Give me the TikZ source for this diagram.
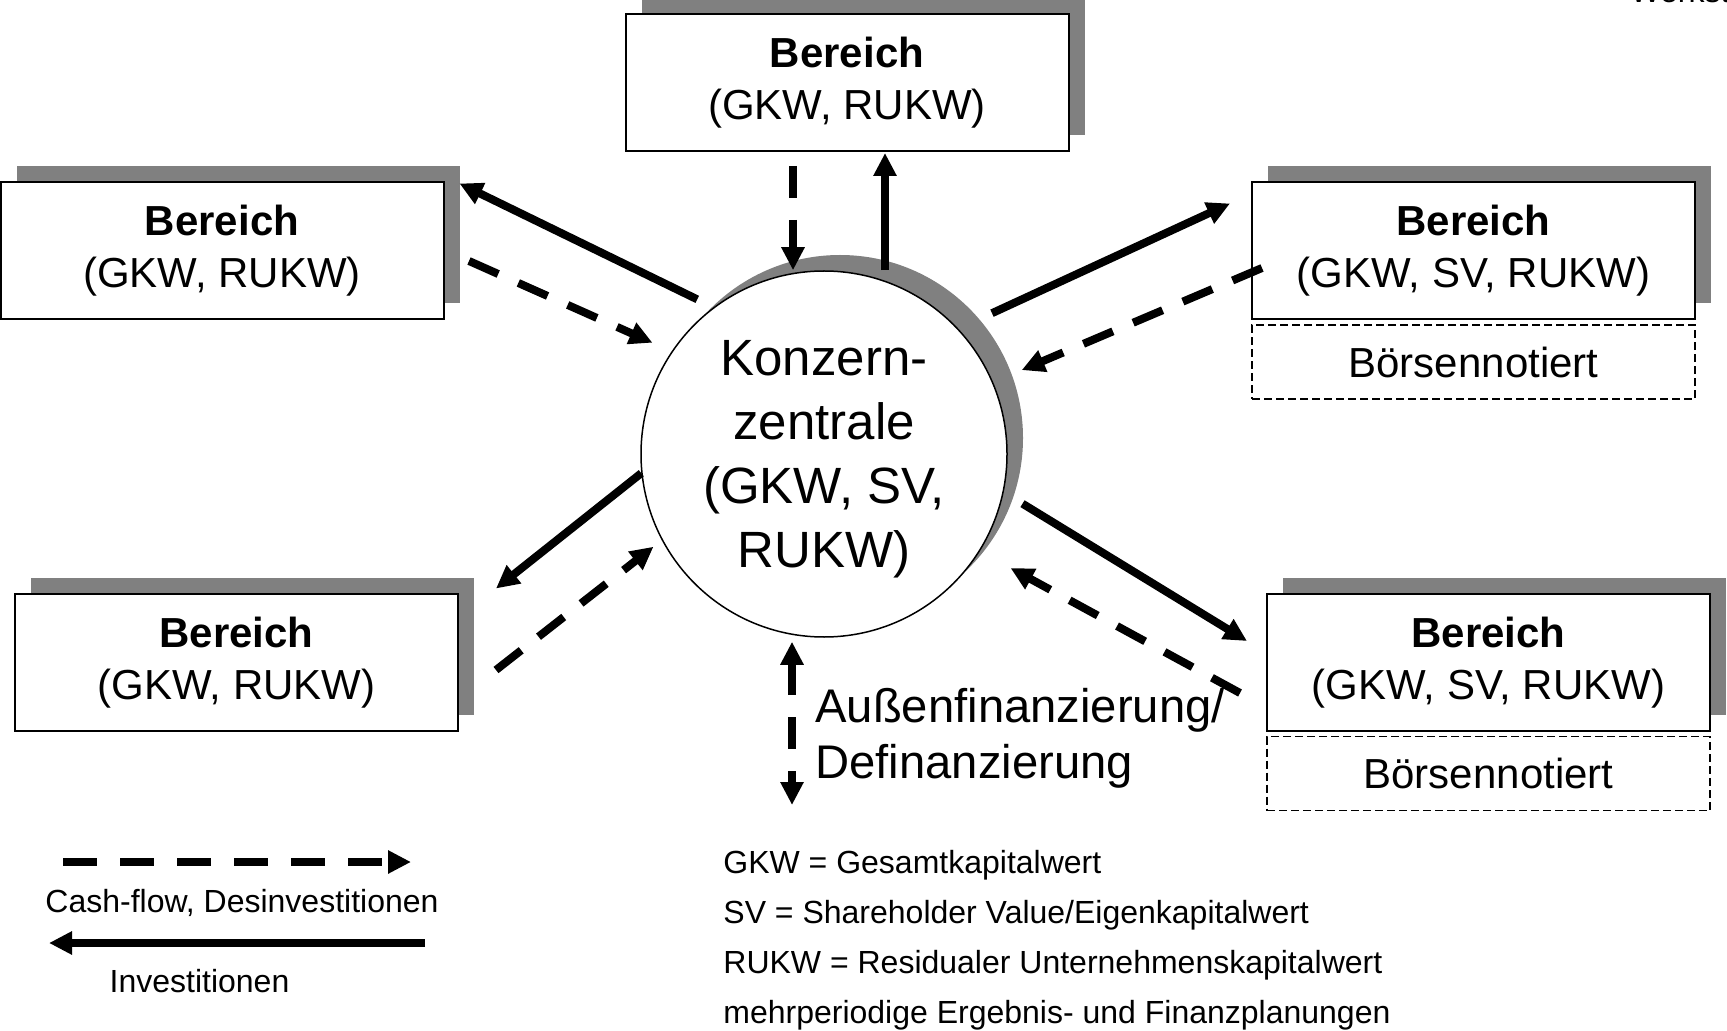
\documentclass[tikz,border=0pt]{standalone}
\usepackage{fontspec}
\setmainfont{Liberation Sans}
\usepackage{tikz}
\usepackage{xcolor}
\usetikzlibrary{arrows.meta,shadows,positioning}
\definecolor{shadowgray}{HTML}{808080}
\tikzset{
    bereich-box/.style = {draw=black, fill=white, line width=1pt, rectangle, minimum width=221.5pt, minimum height=68.5pt, align=center, font=\fontsize{21}{26}\selectfont, general shadow={fill=shadowgray, shadow xshift=8pt, shadow yshift=8pt}},
    boerse-box/.style = {draw=black, line width=0.7pt, dash pattern=on 4pt off 2pt, rectangle, minimum width=221.5pt, minimum height=37pt, font=\fontsize{21}{26}\selectfont},
    zentrale/.style = {draw=black, fill=white, line width=0.75pt, circle, minimum size=183pt, inner sep=0pt, general shadow={fill=shadowgray, shadow xshift=8pt, shadow yshift=8pt}},
    zentrale-text/.style = {align=center, inner sep=0pt, font=\fontsize{25.5}{32}\selectfont},
    invest-arrow/.style = {line width=4pt, -{Triangle[length=11.5pt, width=11pt]}},
    cash-arrow/.style = {invest-arrow, dash pattern=on 16pt off 11pt},
    fin-arrow/.style = {cash-arrow, {Triangle[length=11.5pt, width=11pt]}-{Triangle[length=11.5pt, width=11pt]}},
    legend-text/.style = {font=\fontsize{16}{25}\selectfont, inner sep=0pt},
    fin-text/.style = {font=\fontsize{23.6}{28}\selectfont, inner sep=0pt, align=left},
}
\begin{document}
\begin{tikzpicture}[x=0.5pt, y=-0.5pt]
\useasboundingbox (0,0) rectangle (1727,1031);
\node [legend-text, anchor=base west] (ecke) at (1630,3) {Werkstatt};
\node [bereich-box] (tb) at (847,82.5) {\textbf{Bereich}\\(GKW, RUKW)};
\node [bereich-box] (lt) at (222,251) {\textbf{Bereich}\\(GKW, RUKW)};
\node [bereich-box] (lb) at (236.5,662.5) {\textbf{Bereich}\\(GKW, RUKW)};
\node [bereich-box] (rt) at (1473.5,251) {\textbf{Bereich}\\(GKW, SV, RUKW)};
\node [bereich-box] (rb) at (1488.5,662.5) {\textbf{Bereich}\\(GKW, SV, RUKW)};
\node [boerse-box, below=2pt of rt] (rt-boerse) {Börsennotiert};
\node [boerse-box, below=2pt of rb] (rb-boerse) {Börsennotiert};
\node [zentrale] (kz) at (824,454) {};
\node [zentrale-text] (kz-text) at ([yshift=-2.75pt]kz.center) {Konzern-\\zentrale\\(GKW, SV,\\RUKW)};

\draw [cash-arrow] ([shift={(-54,14)}]tb.south) -- ([shift={(-31,0)}]kz.north);
\draw [invest-arrow] ([shift={(61,0)}]kz.north) -- ([shift={(38,1)}]tb.south);
\draw [invest-arrow, shorten <=9pt] (kz.127.6) -- ([shift={(15,2)}]lt.north east);
\draw [cash-arrow, shorten >=10.5pt] ([shift={(24.5,10)}]lt.east) -- (kz.146.8);
\draw [invest-arrow, shorten <=18.5pt] (kz.43.9) -- ([shift={(-21,22)}]rt.north west);
\draw [cash-arrow, shorten >=15.5pt] ([shift={(11,17)}]rt.west) -- (kz.23.9);
\draw [invest-arrow] (kz.186.8) -- ([shift={(37,-4.5)}]lb.north east);
\draw [cash-arrow, shorten >=5.25pt] ([shift={(37,7.5)}]lb.east) -- (kz.208.6);
\draw [invest-arrow, shorten <=11pt] (kz.-12.1) -- ([shift={(-19,-21.5)}]rb.west);
\draw [cash-arrow, shorten >=17.5pt] ([shift={(-26,30.5)}]rb.west) -- (kz.-32.6);

\coordinate (fin-end) at (792,805);
\draw [fin-arrow] ([shift={(-32,4)}]kz.south) -- (fin-end);
\node [fin-text, anchor=west] (fin) at (815,738.75) {Außenfinanzierung/\\Definanzierung};

\coordinate (cf-start) at (63,862);
\coordinate (cf-end) at (411,862);
\draw [cash-arrow, dash pattern=on 17pt off 11.5pt] (cf-start) -- (cf-end);
\node [legend-text, anchor=base] (cf-label) at (242,912) {Cash-flow, Desinvestitionen};
\coordinate (inv-start) at (425,943);
\coordinate (inv-end) at (49,943);
\draw [invest-arrow] (inv-start) -- (inv-end);
\node [legend-text, anchor=base] (inv-label) at (199.5,992) {Investitionen};

\node [legend-text, anchor=north west, align=left] (abk) at (723,850) {GKW = Gesamtkapitalwert\\SV = Shareholder Value/Eigenkapitalwert\\RUKW = Residualer Unternehmenskapitalwert\\mehrperiodige Ergebnis- und Finanzplanungen};
\end{tikzpicture}
\end{document}
